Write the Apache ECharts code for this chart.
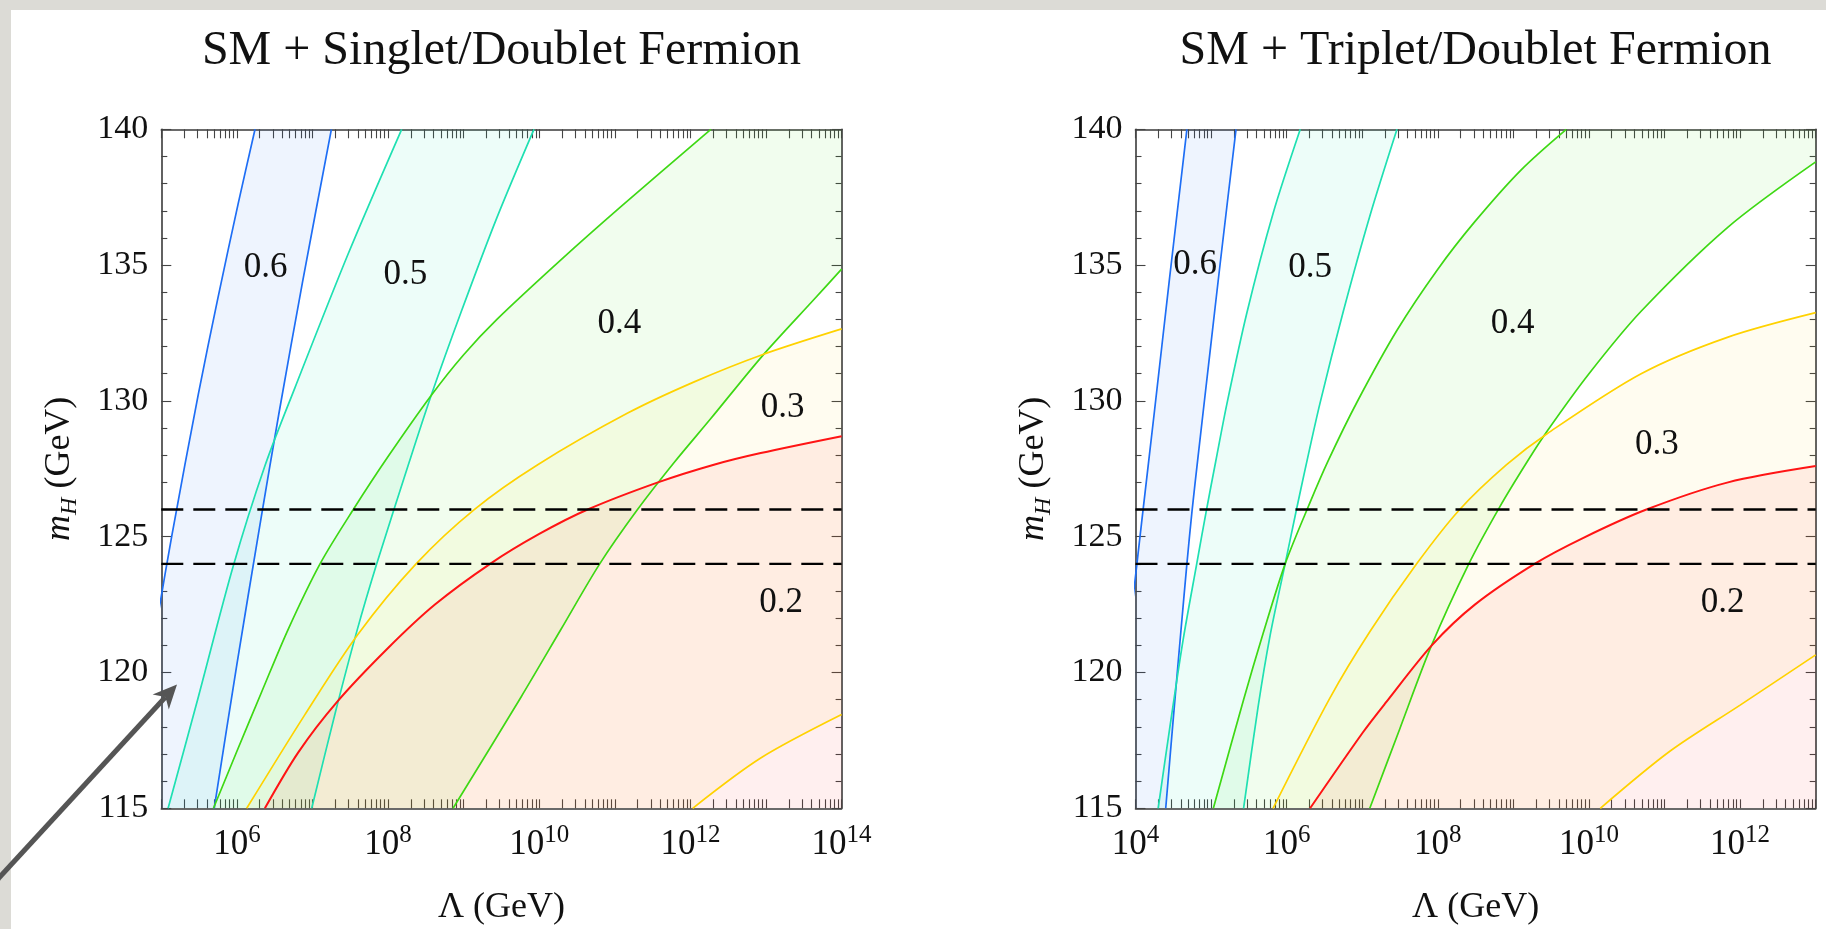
<!DOCTYPE html>
<html>
<head>
<meta charset="utf-8">
<title>SM + Singlet/Doublet and Triplet/Doublet Fermion</title>
<script src="https://cdn.jsdelivr.net/npm/echarts@6/dist/echarts.min.js"></script>
<style>
  html, body { margin: 0; padding: 0; background: #dcdbd6; overflow: hidden; }
  #paper { position: absolute; left: 11px; top: 10px; right: 0; bottom: 0; background: #ffffff; }
  #chart { position: absolute; left: 0; top: 0; width: 1826px; height: 929px; }
</style>
</head>
<body>
<div id="paper"></div>
<div id="chart"></div>
<script>
// Every curve point is [log10(Λ / GeV), m_H / GeV].
// Each coloured band is bounded by an "A" curve (upper-left) and a "B" curve (lower-right).

// ---- Panel 1: SM + Singlet/Doublet Fermion, Λ from 10^5 to 10^14 GeV ----
const sdLogRange = [5, 14];
const sdBlueA = [[4.95,122.0],[5.14,125.05],[5.49,130.25],[5.75,133.8],[6.02,137.3],[6.24,140.0]];
const sdBlueB = [[5.70,115.0],[6.00,120.3],[6.30,125.35],[6.56,129.6],[6.87,134.4],[7.25,140.0]];
const sdCyanA = [[5.09,115.0],[5.49,119.1],[5.95,123.9],[6.37,127.6],[6.77,130.5],[7.47,135.4],[8.18,140.0]];
const sdCyanB = [[6.99,115.0],[7.30,118.5],[7.58,121.45],[7.85,124.0],[8.28,127.75],[8.57,130.2],[8.97,133.3],[9.44,136.75],[9.93,140.0]];
const sdGreenA = [[5.69,115.0],[6.00,117.1],[6.33,119.3],[6.68,121.6],[7.10,124.0],[7.54,126.0],[8.00,127.95],[8.57,130.2],[9.00,131.7],[9.44,133.0],[10.29,135.2],[11.08,137.15],[12.27,140.0]];
const sdGreenB = [[8.86,115.0],[9.76,119.1],[10.29,121.6],[10.80,124.0],[11.30,126.0],[11.79,127.75],[12.27,129.35],[12.95,131.65],[13.64,133.75],[14.0,134.85]];
const sdYellowA = [[6.13,115.0],[6.90,118.45],[7.60,121.4],[8.37,124.0],[9.14,126.0],[9.98,127.65],[11.17,129.55],[12.05,130.7],[12.95,131.7],[14.0,132.65]];
const sdYellowB = [[12.03,115.0],[12.93,116.85],[14.0,118.45]];
const sdRed = [[6.37,115.0],[6.81,117.05],[7.32,118.9],[8.0,120.9],[8.62,122.5],[9.35,124.0],[10.0,125.1],[10.64,126.0],[11.57,127.0],[12.31,127.65],[12.93,128.08],[14.0,128.7]];
const sdLabels = [['0.6',6.38,134.9],['0.5',8.23,134.65],['0.4',11.06,132.85],['0.3',13.22,129.75],['0.2',13.20,122.55]];
const sdTickExponents = [6, 8, 10, 12, 14];

// ---- Panel 2: SM + Triplet/Doublet Fermion, Λ from 10^4 to 10^13 GeV ----
const tdLogRange = [4, 13];
const tdBlueA = [[3.97,122.8],[4.08,125.5],[4.25,129.6],[4.45,134.5],[4.68,140.0]];
const tdBlueB = [[4.40,115.0],[4.50,118.3],[4.60,121.5],[4.68,124.0],[4.75,126.0],[4.83,128.0],[4.99,131.9],[5.12,135.05],[5.33,140.0]];
const tdCyanA = [[4.30,115.0],[4.45,117.9],[4.63,121.2],[4.81,124.0],[4.94,126.0],[5.06,127.75],[5.21,129.9],[5.47,133.2],[5.82,136.9],[6.18,140.0]];
const tdCyanB = [[5.43,115.0],[5.62,118.7],[5.78,121.35],[5.98,124.0],[6.13,126.0],[6.25,127.55],[6.44,129.9],[6.75,133.3],[7.10,136.8],[7.46,140.0]];
const tdGreenA = [[5.03,115.0],[5.43,119.0],[5.69,121.45],[5.98,124.0],[6.30,126.2],[6.55,127.8],[6.93,129.95],[7.46,132.6],[8.00,134.85],[8.49,136.6],[9.10,138.5],[9.70,140.0]];
const tdGreenB = [[7.10,115.0],[7.50,117.95],[7.91,120.95],[8.41,124.0],[8.82,126.1],[9.18,127.75],[9.45,128.9],[10.0,131.0],[10.69,133.3],[11.84,136.4],[13.0,138.8]];
const tdYellowA = [[5.82,115.0],[6.57,119.05],[7.10,121.5],[7.72,124.0],[8.29,126.0],[8.91,127.65],[9.45,128.8],[10.69,131.0],[11.84,132.35],[13.0,133.25]];
const tdYellowB = [[10.15,115.0],[11.07,117.1],[12.0,118.8],[13.0,120.65]];
const tdRed = [[6.31,115.0],[7.01,117.8],[7.30,118.85],[7.92,121.0],[8.49,122.5],[9.28,124.0],[9.92,124.95],[10.76,126.0],[11.84,127.0],[13.0,127.6]];
const tdLabels = [['0.6',4.79,135.0],['0.5',6.31,134.9],['0.4',8.99,132.85],['0.3',10.90,128.4],['0.2',11.77,122.55]];
const tdTickExponents = [4, 6, 8, 10, 12];

// Shared axis values
const mHRange = [115, 140];
const mHStep = 5;
const higgsBand = [124, 126];

const FONT = '"Liberation Serif", "Times New Roman", Times, serif';
const style = {
  '0.6': { line: '#1e6ef5', fill: 'rgba(30,110,245,0.075)' },
  '0.5': { line: '#1fe0b2', fill: 'rgba(30,230,180,0.08)' },
  '0.4': { line: '#3ed814', fill: 'rgba(60,220,20,0.07)' },
  '0.3': { line: '#ffd200', fill: 'rgba(255,210,0,0.06)' },
  '0.2': { line: '#ff1414', fill: 'rgba(255,30,30,0.07)' }
};

function toXY(pts) { return pts.map(p => [Math.pow(10, p[0]), p[1]]); }

// Closed outline of the region between curve a and curve b.
function bandOutline(a, b) {
  const la = a[a.length - 1], lb = b[b.length - 1];
  const end = [Math.max(la[0], lb[0]), Math.max(la[1], lb[1])];
  const start = [Math.min(a[0][0], b[0][0]), Math.min(a[0][1], b[0][1])];
  return a.concat([end], b.slice().reverse(), [start]);
}

function logTicks(r) {
  const t = [];
  for (let n = r[0]; n < r[1]; n++) {
    for (let k = 1; k <= 9; k++) t.push(+(n + Math.log10(k)).toFixed(4));
  }
  t.push(r[1]);
  return t;
}

const panels = [
  {
    range: sdLogRange, labels: sdLabels, tickExp: sdTickExponents,
    bands: [
      { level: '0.6', a: sdBlueA, b: sdBlueB, lines: [sdBlueA, sdBlueB] },
      { level: '0.5', a: sdCyanA, b: sdCyanB, lines: [sdCyanA, sdCyanB] },
      { level: '0.4', a: sdGreenA, b: sdGreenB, lines: [sdGreenA, sdGreenB] },
      { level: '0.3', a: sdYellowA, b: sdYellowB, lines: [sdYellowA, sdYellowB] },
      { level: '0.2', a: sdRed, b: [[sdLogRange[1], mHRange[0]]], lines: [sdRed] }
    ]
  },
  {
    range: tdLogRange, labels: tdLabels, tickExp: tdTickExponents,
    bands: [
      { level: '0.6', a: tdBlueA, b: tdBlueB, lines: [tdBlueA, tdBlueB] },
      { level: '0.5', a: tdCyanA, b: tdCyanB, lines: [tdCyanA, tdCyanB] },
      { level: '0.4', a: tdGreenA, b: tdGreenB, lines: [tdGreenA, tdGreenB] },
      { level: '0.3', a: tdYellowA, b: tdYellowB, lines: [tdYellowA, tdYellowB] },
      { level: '0.2', a: tdRed, b: [[tdLogRange[1], mHRange[0]]], lines: [tdRed] }
    ]
  }
];

const grids = [
  { left: 161.3, top: 129.3, width: 680.3, height: 679, outerBoundsMode: 'none' },
  { left: 1135.5, top: 129.3, width: 680.2, height: 679, outerBoundsMode: 'none' }
];

const frameLine = { color: '#3a3a3a', width: 1.6 };
const tickLine = { color: '#444', width: 1.1 };
const xAxes = [], yAxes = [], series = [];

panels.forEach((p, gi) => {
  const xi = gi * 3, yi = gi * 2;
  const ticks = logTicks(p.range);
  xAxes.push(
    { type: 'log', gridIndex: gi, logBase: 10, min: Math.pow(10, p.range[0]), max: Math.pow(10, p.range[1]),
      position: 'bottom', axisLine: { show: true, onZero: false, lineStyle: frameLine },
      axisTick: { show: false }, axisLabel: { show: false }, splitLine: { show: false } },
    { type: 'value', gridIndex: gi, min: p.range[0], max: p.range[1], position: 'bottom',
      axisLine: { show: false, onZero: false },
      axisTick: { show: true, inside: true, length: 9, customValues: ticks, lineStyle: tickLine },
      axisLabel: { show: true, customValues: p.tickExp, margin: 15,
        formatter: v => '{b|10}{e|' + v + '}',
        rich: {
          b: { fontSize: 35, fontFamily: FONT, color: '#111', lineHeight: 44 },
          e: { fontSize: 25, fontFamily: FONT, color: '#111', lineHeight: 24, verticalAlign: 'top' }
        } },
      splitLine: { show: false } },
    { type: 'value', gridIndex: gi, min: p.range[0], max: p.range[1], position: 'top',
      axisLine: { show: true, onZero: false, lineStyle: frameLine },
      axisTick: { show: true, inside: true, length: 9, customValues: ticks, lineStyle: tickLine },
      axisLabel: { show: false }, splitLine: { show: false } }
  );
  ['left', 'right'].forEach(pos => {
    yAxes.push({
      type: 'value', gridIndex: gi, min: mHRange[0], max: mHRange[1], interval: mHStep, position: pos,
      axisLine: { show: true, onZero: false, lineStyle: frameLine },
      axisTick: { show: true, inside: true, length: 10, lineStyle: tickLine },
      minorTick: { show: true, splitNumber: 5, length: 6, lineStyle: tickLine },
      axisLabel: { show: pos === 'left', fontSize: 34, fontFamily: FONT, color: '#111', margin: 13 },
      splitLine: { show: false }, minorSplitLine: { show: false }
    });
  });

  // shaded bands
  p.bands.forEach(band => {
    const outline = toXY(bandOutline(band.a, band.b));
    series.push({
      type: 'custom', xAxisIndex: xi, yAxisIndex: yi, clip: true, silent: true, z: 1,
      data: outline,
      renderItem(params, api) {
        if (params.dataIndex !== 0) return null;
        return { type: 'polygon', shape: { points: outline.map(q => api.coord(q)) },
                 style: { fill: style[band.level].fill } };
      }
    });
  });
  // boundary curves
  p.bands.forEach(band => {
    band.lines.forEach(c => {
      series.push({
        type: 'line', xAxisIndex: xi, yAxisIndex: yi, data: toXY(c), showSymbol: false, symbol: 'none',
        smooth: 0.3, clip: true, silent: true, z: 2,
        lineStyle: { color: style[band.level].line, width: band.level === '0.2' ? 2 : 1.7 }
      });
    });
  });
  // measured Higgs mass window
  higgsBand.forEach(m => {
    series.push({
      type: 'line', xAxisIndex: xi, yAxisIndex: yi, symbol: 'none', silent: true, z: 3,
      data: [[Math.pow(10, p.range[0]), m], [Math.pow(10, p.range[1]), m]],
      lineStyle: { color: '#000', width: 2.4, type: [22, 10] }
    });
  });
  // contour values
  series.push({
    type: 'custom', xAxisIndex: xi, yAxisIndex: yi, silent: true, z: 4,
    data: p.labels.map(l => [Math.pow(10, l[1]), l[2]]),
    renderItem(params, api) {
      const pt = api.coord([api.value(0), api.value(1)]);
      return { type: 'text', x: pt[0], y: pt[1],
               style: { text: p.labels[params.dataIndex][0], fontSize: 35, fontFamily: FONT,
                        fill: '#111', align: 'center', verticalAlign: 'middle' } };
    }
  });
});

function centerX(g) { return g.left + g.width / 2; }

const mhRich = {
  i: { fontStyle: 'italic', fontSize: 36, fontFamily: FONT, fill: '#111', lineHeight: 44 },
  s: { fontStyle: 'italic', fontSize: 24, fontFamily: FONT, fill: '#111', lineHeight: 26, verticalAlign: 'bottom' },
  n: { fontSize: 36, fontFamily: FONT, fill: '#111', lineHeight: 44 }
};

const titles = ['SM + Singlet/Doublet Fermion', 'SM + Triplet/Doublet Fermion'];
const graphics = [];
grids.forEach((g, i) => {
  graphics.push(
    { type: 'text', x: centerX(g), y: 51, silent: true,
      style: { text: titles[i], fontSize: 48, fontFamily: FONT, fill: '#111', align: 'center', verticalAlign: 'middle' } },
    { type: 'text', x: centerX(g), y: 908, silent: true,
      style: { text: 'Λ (GeV)', fontSize: 36, fontFamily: FONT, fill: '#111', align: 'center', verticalAlign: 'middle' } },
    { type: 'text', x: g.left - 102, y: g.top + g.height / 2, rotation: Math.PI / 2, silent: true,
      style: { text: '{i|m}{s|H}{n| (GeV)}', rich: mhRich, align: 'center', verticalAlign: 'middle' } }
  );
});
// pointer arrow in the lower-left corner
graphics.push(
  { type: 'line', silent: true, z: 10, shape: { x1: -20, y1: 898.4, x2: 165.5, y2: 697 },
    style: { stroke: '#555', lineWidth: 5 } },
  { type: 'polygon', silent: true, z: 10,
    shape: { points: [[177, 684.5], [152.6, 694.6], [165.5, 697], [168.8, 709.6]] },
    style: { fill: '#555' } }
);

const chart = echarts.init(document.getElementById('chart'), null, { renderer: 'canvas' });
chart.setOption({
  animation: false,
  backgroundColor: 'transparent',
  grid: grids,
  xAxis: xAxes,
  yAxis: yAxes,
  series: series,
  graphic: { elements: graphics }
});
</script>
</body>
</html>
